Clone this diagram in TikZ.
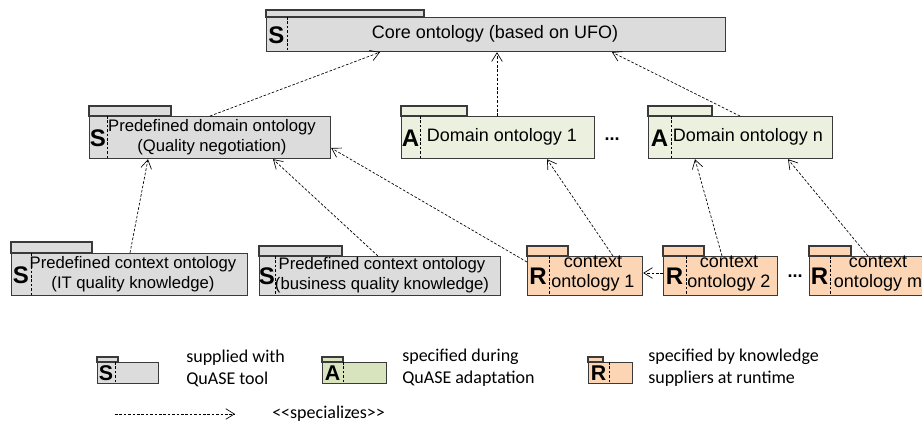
\documentclass[tikz,border=0pt]{standalone}
\usepackage{fontspec}
\setmainfont{Liberation Sans}
\newfontfamily\legendfont{Carlito}
\usetikzlibrary{arrows.meta,calc}
\definecolor{grayfill}{HTML}{DCDCDC}
\definecolor{greenfill}{HTML}{EBF1DE}
\definecolor{greenlegend}{HTML}{D7E4BD}
\definecolor{peachfill}{HTML}{FCD5B5}
\definecolor{edgecol}{HTML}{3A3A3A}
\tikzset{
  pkgline/.style={draw=edgecol, line width=0.9pt},
  divline/.style={draw=black, line width=0.5pt, dash pattern=on 2pt off 1.3pt},
  letter/.style={font=\bfseries\fontsize{18}{18}\selectfont, inner sep=0pt},
  smallletter/.style={font=\bfseries\fontsize{16}{16}\selectfont, inner sep=0pt},
  bigtxt/.style={font=\fontsize{13.5}{15}\selectfont, align=center, inner sep=0pt},
  medtxt/.style={font=\fontsize{12.5}{15}\selectfont, align=center, inner sep=0pt},
  legtxt/.style={font=\legendfont\fontsize{13.5}{16.5}\selectfont, align=left, anchor=west, inner sep=0pt},
  dotsnode/.style={font=\bfseries\fontsize{13.5}{15}\selectfont, inner sep=0pt, anchor=base},
  spec/.style={draw=black, line width=0.5pt, dash pattern=on 2pt off 1.3pt,
    -{Straight Barb[length=6.5pt,width=8pt,line width=0.5pt]}},
}
% name, x1, tabtop, bodytop, x2, y2, tabright, divx, fill
\newcommand\pkgshape[9]{%
  \draw[pkgline, fill=#9] (#2,#3) rectangle (#7,#4);
  \pgfmathsetmacro\pkgw{(#5-#2)*0.75}%
  \pgfmathsetmacro\pkgh{(#6-#4)*0.75}%
  \node[pkgline, fill=#9, rectangle, inner sep=0pt, anchor=north west,
        minimum width=\pkgw pt, minimum height=\pkgh pt] (#1) at (#2,#4) {};
  \draw[divline] (#8,#4) -- (#8,#6);
}
\begin{document}
\begin{tikzpicture}[x=0.75pt, y=-0.75pt]
\useasboundingbox (0,0) rectangle (922,428);
\clip (0,0) rectangle (922,428);
\fill[white] (0,0) rectangle (922,428);

% packages
\pkgshape{core}{266}{10}{17}{725}{51}{424}{287}{grayfill}
\pkgshape{pdo}{89}{106}{116}{330}{158}{171}{107}{grayfill}
\pkgshape{doa}{401}{106}{116}{594}{158}{467}{420}{greenfill}
\pkgshape{don}{648}{106}{116}{832}{158}{712}{671}{greenfill}
\pkgshape{pit}{11}{242}{253}{247}{295}{92}{31}{grayfill}
\pkgshape{pbus}{259}{246}{256}{500}{295}{342}{275}{grayfill}
\pkgshape{ca}{527}{246}{256}{642}{295}{568}{549}{peachfill}
\pkgshape{cb}{663}{246}{256}{777}{295}{704}{686}{peachfill}
\pkgshape{cm}{809}{246}{256}{935}{295}{851}{830}{peachfill}

% letters
\node[letter] (coreL) at (276.5,35) {S};
\node[letter] (pdoL) at (98,138) {S};
\node[letter] (doaL) at (410.5,138) {A};
\node[letter] (donL) at (659.5,138) {A};
\node[letter] (pitL) at (21,275) {S};
\node[letter] (pbusL) at (267,276) {S};
\node[letter] (caL) at (538,276) {R};
\node[letter] (cbL) at (674.5,276) {R};
\node[letter] (cmL) at (819.5,276) {R};

% texts
\node[bigtxt] (coreT) at (495,34) {Core ontology (based on UFO)};
\node[medtxt] (pdoT) at (212,137) {Predefined domain ontology\\(Quality negotiation)};
\node[bigtxt] (doaT) at (502,137) {Domain ontology 1};
\node[bigtxt] (donT) at (748,137) {Domain ontology n};
\node[medtxt] (pitT) at (133,274) {Predefined context ontology\\(IT quality knowledge)};
\node[medtxt] (pbusT) at (382,275) {Predefined context ontology\\(business quality knowledge)};
\node[bigtxt] (caT) at (593,274) {context\\ontology 1};
\node[bigtxt] (cbT) at (729,274) {context\\ontology 2};
\node[bigtxt] (cmT) at (878,274) {context\\ontology m};

\node[dotsnode] (dotsA) at (612,141) {...};
\node[dotsnode] (dotsB) at (795,277) {...};

% specialization arrows
\draw[spec] ($(pdo.north west)+(121,0)$) -- ($(core.south west)+(114,0)$);
\draw[spec] ($(doa.north west)+(96,0)$) -- ($(core.south west)+(231,0)$);
\draw[spec] ($(don.north west)+(92,0)$) -- ($(core.south west)+(346,0)$);
\draw[spec] ($(pit.north west)+(119,0)$) -- ($(pdo.south west)+(59,0)$);
\draw[spec] ($(pbus.north west)+(119,0)$) -- ($(pdo.south west)+(184,0)$);
\draw[spec] ($(ca.north west)+(0,6)$) -- ($(pdo.north east)+(0,32)$);
\draw[spec] ($(ca.north west)+(86,0)$) -- ($(doa.south west)+(146,0)$);
\draw[spec] ($(cb.north west)+(0,17)$) -- ($(ca.north east)+(0,17)$);
\draw[spec] ($(cb.north west)+(59,0)$) -- ($(don.south west)+(47,0)$);
\draw[spec] ($(cm.north west)+(59,0)$) -- ($(don.south west)+(140,0)$);

% legend
\pkgshape{legS}{97}{357}{362}{158}{383}{118}{115}{grayfill}
\pkgshape{legA}{322}{357}{362}{386}{383}{343}{343}{greenlegend}
\pkgshape{legR}{588}{357}{362}{632}{383}{603}{609}{peachfill}
\node[smallletter] (legSL) at (106,373) {S};
\node[smallletter] (legAL) at (332.5,373) {A};
\node[smallletter] (legRL) at (598.5,373) {R};
\node[legtxt] (legST) at (186,368) {supplied with\\QuASE tool};
\node[legtxt] (legAT) at (402,368) {specified during\\QuASE adaptation};
\node[legtxt] (legRT) at (648,368) {specified by knowledge\\suppliers at runtime};

\coordinate (legArrA) at (115,414);
\coordinate (legArrB) at (235,414);
\draw[spec] (legArrA) -- (legArrB);
\node[legtxt] (legSpec) at (272,414) {<\kern0pt<specializes>\kern0pt>};
\end{tikzpicture}
\end{document}
